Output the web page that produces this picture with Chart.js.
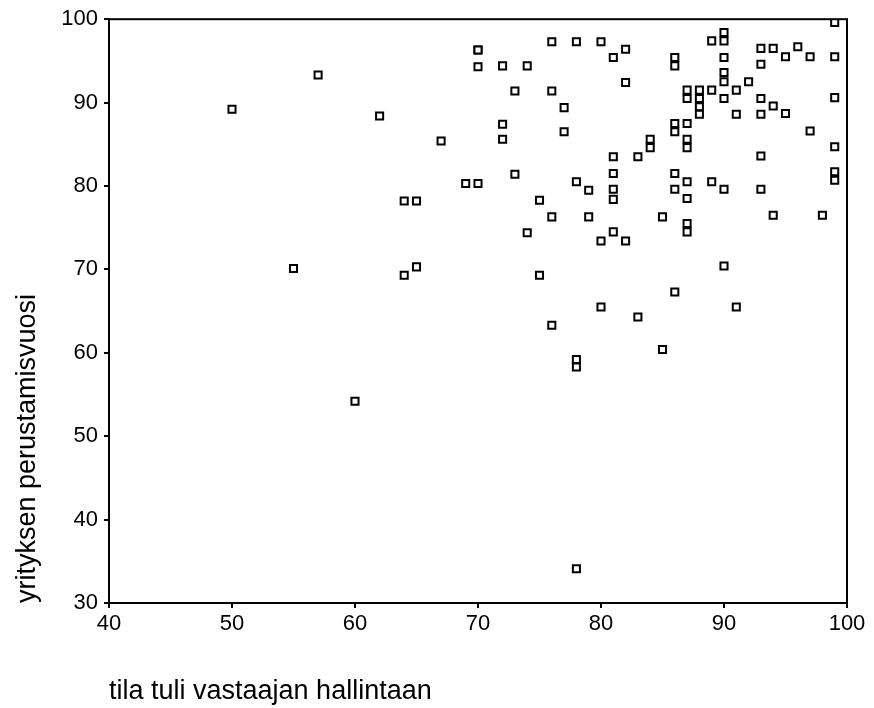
<!DOCTYPE html>
<html>
<head>
<meta charset="utf-8">
<script src="https://cdn.jsdelivr.net/npm/chart.js@4/dist/chart.umd.min.js"></script>
<style>
  html, body { margin: 0; padding: 0; background: #fff; }
  #wrap { width: 874px; height: 708px; }
</style>
</head>
<body>
<div id="wrap"><canvas id="scatterChart"></canvas></div>
<script>
// year the farm came under respondent's control (x) vs company founding year (y)
const controlYear = [
  70, 70, 57, 50, 62, 67, 69, 70, 64, 65, 55, 64, 65, 60,
  86, 80, 91, 83, 76, 85, 78, 78, 78,
  99, 90, 90, 89, 76, 78, 80, 70, 82, 93, 94, 96,
  81, 86, 86, 90, 95, 97, 99, 72, 74, 93, 90, 90,
  82, 92, 73, 76, 87, 87, 88, 88, 88, 88, 89, 91,
  90, 93, 99, 77, 94, 91, 93, 95, 72, 72, 77, 86, 86,
  87, 97, 84, 84, 87, 87, 99, 81, 83, 93, 99, 99,
  73, 81, 86, 78, 87, 89, 79, 81, 81, 86, 90, 93,
  75, 87, 76, 79, 85, 94, 98, 87, 87, 74, 81, 80, 82,
  90, 75
];
const foundingYear = [
  96.3, 94.3, 93.3, 89.2, 88.4, 85.4, 80.3, 80.3, 78.2, 78.2, 70.1, 69.3, 70.3, 54.2,
  67.3, 65.5, 65.5, 64.3, 63.3, 60.4, 59.2, 58.3, 34.1,
  99.6, 98.4, 97.4, 97.4, 97.3, 97.3, 97.3, 96.3, 96.4, 96.5, 96.5, 96.7,
  95.4, 95.4, 94.4, 95.4, 95.5, 95.5, 95.5, 94.4, 94.4, 94.6, 93.6, 92.5,
  92.4, 92.5, 91.4, 91.4, 91.5, 90.5, 91.5, 90.5, 89.5, 88.6, 91.5, 91.5,
  90.5, 90.5, 90.6, 89.4, 89.6, 88.6, 88.6, 88.7, 87.4, 85.6, 86.5, 87.5, 86.5,
  87.5, 86.6, 85.6, 84.6, 85.6, 84.6, 84.7, 83.5, 83.5, 83.6, 81.7, 80.7,
  81.4, 81.5, 81.5, 80.5, 80.5, 80.5, 79.5, 79.6, 78.4, 79.6, 79.6, 79.6,
  78.3, 78.5, 76.3, 76.3, 76.3, 76.5, 76.5, 75.5, 74.5, 74.4, 74.5, 73.4, 73.4,
  70.4, 69.3
];
const xTicks = [40, 50, 60, 70, 80, 90, 100];
const yTicks = [30, 40, 50, 60, 70, 80, 90, 100];

const points = controlYear.map((x, i) => ({ x: x, y: foundingYear[i] }));

// draws the closed frame around the plot area
const frame = {
  id: 'frame',
  afterDatasetsDraw(chart) {
    const a = chart.chartArea, ctx = chart.ctx;
    ctx.save();
    ctx.strokeStyle = '#000';
    ctx.lineWidth = 2;
    ctx.strokeRect(a.left, a.top, a.right - a.left, a.bottom - a.top);
    ctx.restore();
  }
};

const font = { family: '"Liberation Sans", Arial, sans-serif' };

new Chart(document.getElementById('scatterChart'), {
  type: 'scatter',
  data: {
    datasets: [{
      data: points,
      pointStyle: 'rect',
      pointRadius: 5,
      pointHoverRadius: 5,
      borderColor: '#000',
      backgroundColor: '#fff',
      borderWidth: 2
    }]
  },
  options: {
    responsive: true,
    maintainAspectRatio: false,
    animation: false,
    layout: { padding: { left: 0, right: 27, top: 18, bottom: 0 } },
    plugins: { legend: { display: false }, tooltip: { enabled: false } },
    scales: {
      x: {
        type: 'linear',
        min: 40, max: 100,
        afterBuildTicks: s => { s.ticks = xTicks.map(v => ({ value: v })); },
        afterFit: s => { s.height = 105; },
        ticks: { color: '#000', font: { ...font, size: 22 }, padding: 3, maxRotation: 0 },
        grid: { drawOnChartArea: false, color: '#000', lineWidth: 2, tickLength: 5 },
        border: { color: '#000', width: 2 },
        title: {
          display: true, text: 'tila tuli vastaajan hallintaan', align: 'start',
          color: '#000', font: { ...font, size: 27 }, padding: { top: 0, bottom: 0 }
        }
      },
      y: {
        type: 'linear',
        min: 30, max: 100,
        afterBuildTicks: s => { s.ticks = yTicks.map(v => ({ value: v })); },
        afterFit: s => { s.width = 109; },
        ticks: { color: '#000', font: { ...font, size: 22 }, padding: 6 },
        grid: { drawOnChartArea: false, color: '#000', lineWidth: 2, tickLength: 5 },
        border: { color: '#000', width: 2 },
        title: {
          display: true, text: 'yrityksen perustamisvuosi', align: 'start',
          color: '#000', font: { ...font, size: 27 }, padding: { top: 11, bottom: 0 }
        }
      }
    }
  },
  plugins: [frame]
});
</script>
</body>
</html>
